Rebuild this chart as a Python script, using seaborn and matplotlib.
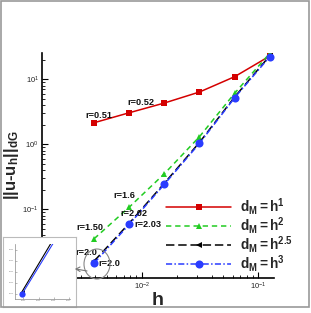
import numpy as np
import pandas as pd
import seaborn as sns
import matplotlib
matplotlib.use("Agg")
import matplotlib.pyplot as plt
from matplotlib.patches import Rectangle, Ellipse
from matplotlib.ticker import LogLocator, NullFormatter

# ---- data ----
h = [1/256, 1/128, 1/64, 1/32, 1/16, 1/8]
err_h1 = [2.15, 3.06, 4.32, 6.38, 10.97, 22.8]
err_h2 = [0.0353, 0.108, 0.353, 1.31, 6.1, 25.1]
err_h25 = [0.0160, 0.0610, 0.252, 1.07, 5.35, 23.0]
err_h3 = [0.0149, 0.0588, 0.243, 1.035, 5.2, 22.3]
series_labels = [r"$\mathbf{d_M{=}h^1}$", r"$\mathbf{d_M{=}h^2}$",
                 r"$\mathbf{d_M{=}h^{2.5}}$", r"$\mathbf{d_M{=}h^3}$"]
rate_labels = ["r=0.51", "r=0.52", "r=1.6", "r=2.02", "r=2.03", "r=1.50", "r=2.0", "r=2.0"]

sns.set_theme(style="ticks")
plt.rcParams['font.family'] = ['Liberation Sans', 'DejaVu Sans']
plt.rcParams['mathtext.fontset'] = 'custom'
plt.rcParams['mathtext.rm'] = 'Liberation Sans'
plt.rcParams['mathtext.it'] = 'Liberation Sans:italic'
plt.rcParams['mathtext.bf'] = 'Liberation Sans:bold'

W, H = 311, 313
fig = plt.figure(figsize=(W/100, H/100), dpi=100)
fig.patch.set_facecolor('white')

def fx(px):
    return px / W
def fy(py):
    return 1 - py / H

ax_l, ax_r, ax_t, ax_b = 41.7, 274, 53, 278
ax = fig.add_axes([fx(ax_l), fy(ax_b), fx(ax_r) - fx(ax_l), fy(ax_t) - fy(ax_b)])
ax.set_facecolor('white')

red = '#d40000'
green = '#22cc22'
blue = '#2a3cff'

sns.lineplot(x=h, y=err_h1, ax=ax, color=red, marker='s', markersize=4.2,
             markeredgewidth=0, linewidth=1.1, label=series_labels[0], sort=False)
sns.lineplot(x=h, y=err_h2, ax=ax, color=green, marker='^', markersize=4.8,
             markeredgewidth=0, linewidth=1.1, label=series_labels[1], sort=False)
sns.lineplot(x=h, y=err_h25, ax=ax, color='black', marker='<', markersize=4.5,
             markeredgewidth=0, linewidth=1.1, label=series_labels[2], sort=False)
sns.lineplot(x=h, y=err_h3, ax=ax, color=blue, marker='o', markersize=5.8,
             markeredgewidth=0, linewidth=1.1, label=series_labels[3], sort=False)

lines = ax.get_lines()
lines[1].set_dashes((3.5, 2.5))
lines[2].set_dashes((5.5, 2.5))
lines[3].set_dashes((4, 1.5, 1, 1.5))

ax.set_xscale('log')
ax.set_yscale('log')
ax.set_xlim(0.00139, 0.136)
ax.set_ylim(0.0088, 25.4)

for s in ['top', 'right']:
    ax.spines[s].set_visible(False)
for s in ['left', 'bottom']:
    ax.spines[s].set_linewidth(1.2)
    ax.spines[s].set_color('black')

ax.xaxis.set_major_locator(LogLocator(base=10, numticks=10))
ax.yaxis.set_major_locator(LogLocator(base=10, numticks=10))
ax.xaxis.set_minor_locator(LogLocator(base=10, subs=np.arange(2, 10), numticks=20))
ax.yaxis.set_minor_locator(LogLocator(base=10, subs=np.arange(2, 10), numticks=20))
ax.xaxis.set_minor_formatter(NullFormatter())
ax.yaxis.set_minor_formatter(NullFormatter())
ax.tick_params(which='major', direction='in', length=4, width=0.8, labelsize=5.5,
               pad=2, colors='black', labelcolor='#222222')
ax.tick_params(which='minor', direction='in', length=2, width=0.6, colors='black')
ax.grid(False)

ax.set_xlabel('h', fontsize=14, fontweight='bold', labelpad=0)
ax.set_ylabel(r"||u-u$_{\mathbf{h}}$||$_{\mathbf{dG}}$", fontsize=12, fontweight='bold', labelpad=1)

# rate annotations: (series, point index, offset in pixels)
ann_specs = [(err_h1, 0, (5, 7)), (err_h1, 1, (12, 10)), (err_h2, 1, (-5, 12)),
             (err_h3, 1, (5, 11)), (err_h3, 1, (19, 0)), (err_h2, 0, (-4, 11)),
             (err_h3, 0, (-8, 11)), (err_h3, 0, (15, 0))]
for lab, (ser, i, off) in zip(rate_labels, ann_specs):
    ax.annotate(lab, xy=(h[i], ser[i]), xytext=off, textcoords='offset pixels',
                ha='center', va='center', fontsize=6.6, fontweight='bold', color='#111111')

handles = ax.get_lines()[:4]
leg = ax.legend(handles=handles, labels=series_labels, loc='upper left',
                bbox_to_anchor=((166 - ax_l) / (ax_r - ax_l), (ax_b - 196) / (ax_b - ax_t)),
                frameon=False, fontsize=9.8, handlelength=4.8, handletextpad=0.6,
                labelspacing=-0.15, borderpad=0, borderaxespad=0)

# zoom circle and arrow
circ = Ellipse((fx(97), fy(264)), fx(26), 30 / H, transform=fig.transFigure,
               fill=False, edgecolor='#888888', lw=0.8)
fig.patches.append(circ)
fig.add_artist(plt.Line2D([fx(76), fx(87)], [fy(269), fy(271)], transform=fig.transFigure,
                          color='#777777', lw=0.8))
fig.add_artist(plt.Line2D([fx(80), fx(76), fx(80)], [fy(267), fy(269), fy(271.5)],
                          transform=fig.transFigure, color='#777777', lw=0.8))

# inset frame
frame = fig.add_axes([fx(3), fy(307), fx(76) - fx(3), fy(237) - fy(307)])
frame.set_xticks([]); frame.set_yticks([])
frame.set_facecolor('white')
for s in frame.spines.values():
    s.set_color('#bbbbbb'); s.set_linewidth(0.8)

ins = fig.add_axes([fx(15), fy(298.7), fx(70) - fx(15), fy(243.7) - fy(298.7)])
ins.set_facecolor('white')
sns.lineplot(x=h[:2], y=err_h25[:2], ax=ins, color='black', marker='<', markersize=3.5,
             markeredgewidth=0, linewidth=0.8, sort=False)
sns.lineplot(x=h[:2], y=err_h3[:2], ax=ins, color=blue, marker='o', markersize=4.5,
             markeredgewidth=0, linewidth=0.8, sort=False)
ins.set_xlim(0.00344, 0.00707)
ins.set_ylim(0.01277, 0.03777)
ins.set_xticks([0.004, 0.005, 0.006, 0.007])
ins.set_yticks([0.015, 0.02, 0.025, 0.03, 0.035])
ins.set_xticklabels(['0.004', '0.005', '0.006', '0.007'])
ins.set_yticklabels(['0.015', '0.020', '0.025', '0.030', '0.035'])
ins.tick_params(direction='in', length=1.5, width=0.4, labelsize=1.5, pad=1,
                colors='#888888', labelcolor='#888888')
for s in ['top', 'right']:
    ins.spines[s].set_visible(False)
for s in ['left', 'bottom']:
    ins.spines[s].set_color('#888888'); ins.spines[s].set_linewidth(0.5)
ins.set_xlabel(''); ins.set_ylabel('')
ins.grid(False)

# outer gray border
fig.patches.append(Rectangle((fx(0.5), fy(307)), fx(309) - fx(0.5), fy(0.5) - fy(307),
                             transform=fig.transFigure, fill=False,
                             edgecolor='#999999', lw=1.2))

fig.savefig('out.png', dpi=100, facecolor='white')
